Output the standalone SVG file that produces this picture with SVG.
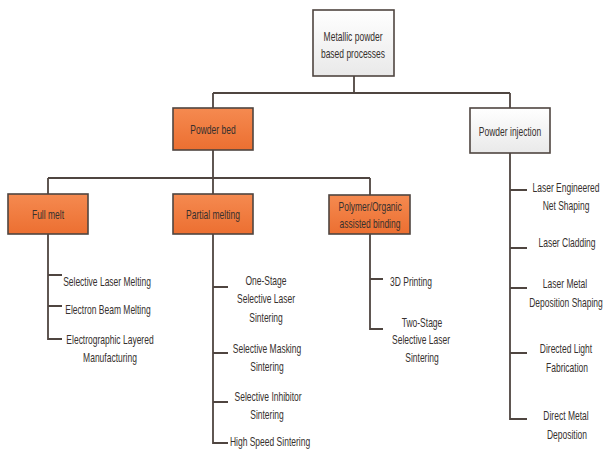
<svg xmlns="http://www.w3.org/2000/svg" width="603" height="449" viewBox="0 0 603 449">
<defs>
<linearGradient id="og" x1="0" y1="0" x2="0" y2="1"><stop offset="0" stop-color="#f58a50"/><stop offset="1" stop-color="#ec6f31"/></linearGradient>
<linearGradient id="gg" x1="0" y1="0" x2="0" y2="1"><stop offset="0" stop-color="#ffffff"/><stop offset="1" stop-color="#e9e9e9"/></linearGradient>
<style>
.box{stroke:#4f4540;stroke-width:1.6}
.o{fill:url(#og)}
.g{fill:url(#gg)}
.c{fill:none;stroke:#4f4540;stroke-width:1.8}
text{font-family:"Liberation Sans",Arial,sans-serif;font-size:12.5px;fill:#36302e;text-anchor:middle;dominant-baseline:central;transform-box:fill-box;transform-origin:center;transform:scaleX(0.68)}
</style>
</defs>
<rect width="603" height="449" fill="#ffffff"/>
<g id="connectors">
<path class="c" d="M354 76V93M213 93H510M213 93V108M510 93V108"/>
<path class="c" d="M213 150V178M48 178H370M48 178V194M213 178V194M370 178V195"/>
<path class="c" d="M48 234V339H62M48 275H62M48 306H62"/>
<path class="c" d="M213 234V443H228M213 287H228M213 353H228M213 402H228"/>
<path class="c" d="M370 234V329H383M370 279H383"/>
<path class="c" d="M510 153V419H527M510 190H527M510 248H527M510 288H527M510 353H527"/>
</g>
<g id="root"><rect class="box g" x="313" y="10" width="81" height="66"/><text x="353" y="36">Metallic powder</text><text x="353" y="53">based processes</text></g>
<g id="powder-bed"><rect class="box o" x="173" y="108" width="80" height="42"/><text x="213" y="129">Powder bed</text></g>
<g id="powder-injection"><rect class="box g" x="470" y="108" width="80" height="45"/><text x="510" y="131">Powder injection</text></g>
<g id="full-melt"><rect class="box o" x="8" y="194" width="80" height="40"/><text x="48" y="214">Full melt</text></g>
<g id="partial-melting"><rect class="box o" x="173" y="194" width="80" height="40"/><text x="213" y="214">Partial melting</text></g>
<g id="polymer"><rect class="box o" x="329" y="195" width="81" height="39"/><text x="370" y="206">Polymer/Organic</text><text x="370" y="223">assisted binding</text></g>
<g id="slm"><text x="107" y="281">Selective Laser Melting</text></g>
<g id="ebm"><text x="108" y="309">Electron Beam Melting</text></g>
<g id="elm"><text x="110" y="339">Electrographic Layered</text><text x="110" y="357">Manufacturing</text></g>
<g id="one-stage"><text x="266" y="280">One-Stage</text><text x="266" y="298">Selective Laser</text><text x="266" y="317">Sintering</text></g>
<g id="sms"><text x="267" y="348">Selective Masking</text><text x="267" y="366">Sintering</text></g>
<g id="sis"><text x="268" y="396">Selective Inhibitor</text><text x="267" y="414">Sintering</text></g>
<g id="hss"><text x="270" y="441">High Speed Sintering</text></g>
<g id="printing"><text x="411" y="281">3D Printing</text></g>
<g id="two-stage"><text x="422" y="322">Two-Stage</text><text x="421" y="339">Selective Laser</text><text x="422" y="357">Sintering</text></g>
<g id="lens"><text x="566" y="187">Laser Engineered</text><text x="566" y="205">Net Shaping</text></g>
<g id="cladding"><text x="567" y="242">Laser Cladding</text></g>
<g id="lmds"><text x="565" y="283">Laser Metal</text><text x="566" y="302">Deposition Shaping</text></g>
<g id="dlf"><text x="566" y="348">Directed Light</text><text x="567" y="367">Fabrication</text></g>
<g id="dmd"><text x="566" y="415">Direct Metal</text><text x="567" y="434">Deposition</text></g>
</svg>
